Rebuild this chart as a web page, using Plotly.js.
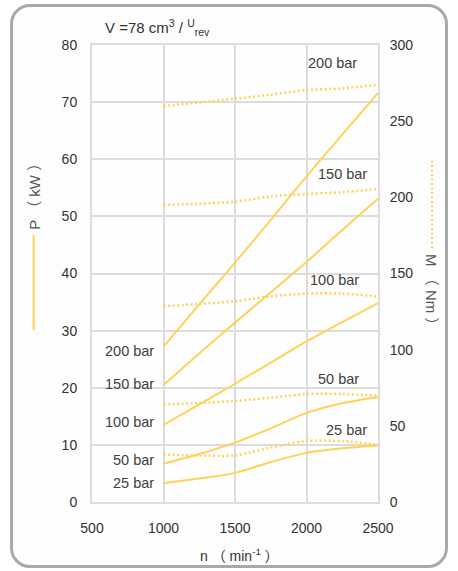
<!DOCTYPE html>
<html>
<head>
<meta charset="utf-8">
<script src="https://cdn.plot.ly/plotly-3.0.1.min.js"></script>
<style>
  html, body { margin:0; padding:0; background:#ffffff; }
  #frame { position:absolute; left:10px; top:4px; width:438px; height:564px; box-sizing:border-box;
           border:3px solid #a9a9ac; border-radius:20px; background:#fdfdfd; }
  #chart { position:absolute; left:0; top:0; width:458px; height:571px; }
</style>
</head>
<body>
<div id="frame"></div>
<div id="chart"></div>
<script>
// speed n (min^-1)
const speed = [1000, 1250, 1500, 1750, 2000, 2250, 2500];
const pressures = ['25 bar', '50 bar', '100 bar', '150 bar', '200 bar'];

// Power P (kW), solid lines, left axis
const power25  = [3.3, 4.1, 5.1, 7.0, 8.6, 9.4, 9.9];
const power50  = [6.7, 8.4, 10.4, 12.9, 15.6, 17.3, 18.4];
const power100 = [13.5, 17.1, 20.7, 24.4, 28.1, 31.5, 34.8];
const power150 = [20.5, 26.0, 31.4, 36.7, 42.0, 47.6, 53.1];
const power200 = [27.2, 34.6, 41.9, 49.4, 57.0, 64.3, 71.6];

// Torque M (Nm), dotted lines, right axis
const torque25  = [31.2, 30.5, 30.6, 35.7, 40.0, 40.0, 37.5];
const torque50  = [63.9, 65.0, 66.3, 68.5, 70.9, 70.9, 69.8];
const torque100 = [128.5, 130.0, 131.8, 135.0, 136.8, 136.8, 135.0];
const torque150 = [195.0, 195.8, 197.2, 200.6, 202.2, 203.4, 205.5];
const torque200 = [260.0, 262.3, 264.8, 267.4, 270.4, 271.5, 274.0];

const xTicks = [500, 1000, 1500, 2000, 2500];
const yTicksP = [0, 10, 20, 30, 40, 50, 60, 70, 80];
const yTicksM = [0, 50, 100, 150, 200, 250, 300];

const powers = [power25, power50, power100, power150, power200];
const torques = [torque25, torque50, torque100, torque150, torque200];

const yellow = '#ffd257';
const textColor = '#404040';
const regular = '"Liberation Sans", Arial, "Noto Sans CJK SC", sans-serif';

const traces = [];
powers.forEach((p, i) => {
  traces.push({x: speed, y: p, type: 'scatter', mode: 'lines', name: 'P ' + pressures[i],
    line: {color: yellow, width: 2, shape: 'spline', smoothing: 0.8}, xaxis: 'x', yaxis: 'y', hoverinfo: 'skip'});
});
torques.forEach((m, i) => {
  traces.push({x: speed, y: m, type: 'scatter', mode: 'lines', name: 'M ' + pressures[i],
    line: {color: yellow, width: 2.5, dash: '2px,2.5px', shape: 'spline', smoothing: 0.8}, xaxis: 'x', yaxis: 'y2', hoverinfo: 'skip'});
});

// left labels next to the power curves at n = 1000
const leftLabelY = [3.3, 7.4, 14.0, 20.6, 26.4];
// right labels above the torque curves
const rightLabelX = [2280, 2225, 2195, 2250, 2180];
const rightLabelY = [47, 81, 145.5, 215.5, 288];

const annotations = [];
pressures.forEach((name, i) => {
  annotations.push({x: 1000, y: leftLabelY[i], xref: 'x', yref: 'y', text: name, showarrow: false,
    xanchor: 'right', yanchor: 'middle', xshift: -8, font: {family: regular, size: 14.5, color: textColor}});
  annotations.push({x: rightLabelX[i], y: rightLabelY[i], xref: 'x', yref: 'y2', text: name, showarrow: false,
    xanchor: 'center', yanchor: 'middle', font: {family: regular, size: 14.5, color: textColor}});
});
annotations.push({x: 0.037, y: 1.039, xref: 'paper', yref: 'paper', xanchor: 'left', yanchor: 'middle',
  text: 'V =78 cm<sup>3</sup> / <sup>U</sup><sub>rev</sub>', showarrow: false,
  font: {family: regular, size: 15, color: '#333'}});
annotations.push({x: -0.204, y: 0.676, xref: 'paper', yref: 'paper', xanchor: 'center', yanchor: 'middle',
  text: 'P （ kW ）', textangle: -90,
  showarrow: false, font: {family: regular, size: 15, color: '#555'}});
annotations.push({x: 1.189, y: 0.457, xref: 'paper', yref: 'paper', xanchor: 'center', yanchor: 'middle',
  text: 'M （ Nm ）', textangle: 90,
  showarrow: false, font: {family: regular, size: 15, color: '#555'}});
annotations.push({x: 0.517, y: -0.116, xref: 'paper', yref: 'paper', xanchor: 'center', yanchor: 'middle',
  text: 'n （ min<sup>-1</sup> ）',
  showarrow: false, font: {family: regular, size: 14, color: '#333'}});

const shapes = [
  {type: 'line', xref: 'paper', yref: 'paper', x0: -0.204, x1: -0.204, y0: 0.376, y1: 0.584,
   line: {color: yellow, width: 2}},
  {type: 'line', xref: 'paper', yref: 'paper', x0: 1.189, x1: 1.189, y0: 0.556, y1: 0.753,
   line: {color: yellow, width: 2, dash: '2px,2.5px'}}
];

const layout = {
  width: 458, height: 571,
  margin: {l: 91.5, r: 79.5, t: 45, b: 69},
  paper_bgcolor: 'rgba(0,0,0,0)', plot_bgcolor: '#fefefe',
  showlegend: false,
  xaxis: {range: [500, 2500], tickvals: xTicks, ticktext: xTicks.map(String),
    showgrid: true, gridcolor: '#dcdcdc', gridwidth: 2, zeroline: false,
    showline: true, linecolor: '#dcdcdc', linewidth: 2, mirror: true,
    ticks: 'outside', ticklen: 12, tickcolor: 'rgba(0,0,0,0)',
    tickfont: {family: regular, size: 14, color: '#333'}, fixedrange: true},
  yaxis: {range: [0, 80], tickvals: yTicksP, ticktext: yTicksP.map(String),
    showgrid: true, gridcolor: '#dcdcdc', gridwidth: 2, zeroline: false,
    showline: true, linecolor: '#dcdcdc', linewidth: 2, mirror: true,
    ticks: 'outside', ticklen: 10, tickcolor: 'rgba(0,0,0,0)',
    tickfont: {family: regular, size: 14, color: '#333'}, fixedrange: true},
  yaxis2: {range: [0, 300], overlaying: 'y', side: 'right', tickvals: yTicksM, ticktext: yTicksM.map(String),
    showgrid: false, zeroline: false, showline: false,
    ticks: 'outside', ticklen: 8, tickcolor: 'rgba(0,0,0,0)',
    tickfont: {family: regular, size: 14, color: '#333'}, fixedrange: true},
  annotations: annotations,
  shapes: shapes
};

Plotly.newPlot('chart', traces, layout, {displayModeBar: false, staticPlot: true});
</script>
</body>
</html>
